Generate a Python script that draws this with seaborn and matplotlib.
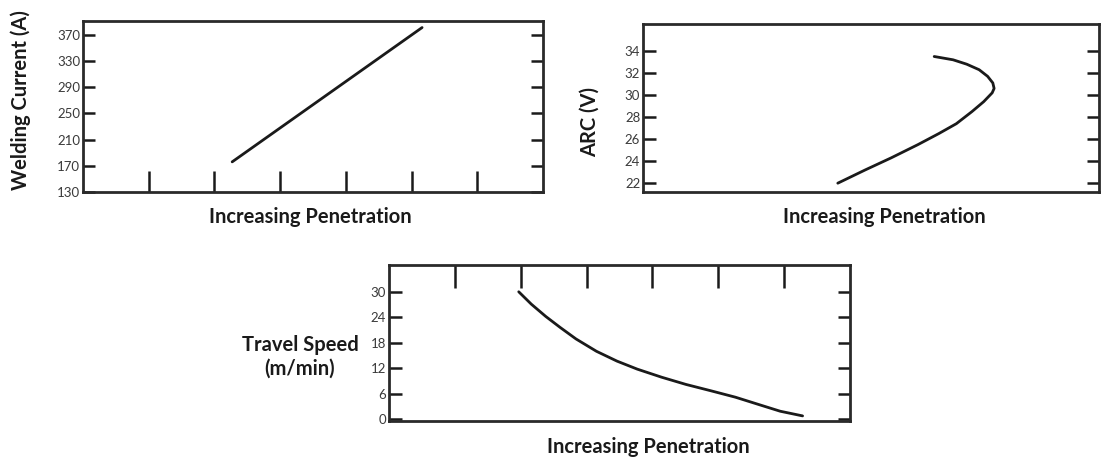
import matplotlib
matplotlib.use("Agg")
import matplotlib.pyplot as plt
import seaborn as sns
import pandas as pd

# ---- data ----
current_x = [2.27, 5.16]
current_y = [176, 381]
current_ticks = [130, 170, 210, 250, 290, 330, 370]

arc_x = [2.99, 3.41, 3.81, 4.22, 4.54, 4.81, 5.05, 5.23, 5.36, 5.39, 5.37, 5.29, 5.16, 4.97, 4.76, 4.47]
arc_y = [22.0, 23.2, 24.3, 25.5, 26.5, 27.4, 28.5, 29.4, 30.2, 30.6, 31.1, 31.7, 32.3, 32.8, 33.2, 33.5]
arc_ticks = [22, 24, 26, 28, 30, 32, 34]

speed_x = [1.97, 2.16, 2.38, 2.60, 2.84, 3.15, 3.46, 3.77, 4.14, 4.51, 4.89, 5.26, 5.63, 5.94, 6.28]
speed_y = [30.0, 27.1, 24.2, 21.6, 18.9, 16.0, 13.7, 11.8, 9.9, 8.2, 6.7, 5.2, 3.4, 1.9, 0.8]
speed_ticks = [0, 6, 12, 18, 24, 30]

pen_ticks = [1, 2, 3, 4, 5, 6]
xlabel = "Increasing Penetration"

sns.set_style("ticks")
plt.rcParams['font.family'] = ['Lato', 'DejaVu Sans']

W, H = 1101, 462
fig = plt.figure(figsize=(W / 100, H / 100), dpi=100)

def box(l, t, r, b):
    return [l / W, (H - b) / H, (r - l) / W, (b - t) / H]

ax1 = fig.add_axes(box(83, 21, 543, 192))
ax2 = fig.add_axes(box(643, 24, 1099, 192))
ax3 = fig.add_axes(box(389, 265, 850, 421))

ink = "#1a1a1a"
lab_col = "#3a3a3a"
LBL = 14.5
TCK = 9.5

for ax in (ax1, ax2, ax3):
    for s in ax.spines.values():
        s.set_visible(True)
        s.set_linewidth(2.0)
        s.set_color("#2a2a2a")
    ax.set_facecolor("white")

def place_labels(ax, xl, yl, xlab_xy, ylab_xy, rot=90):
    ax.set_xlabel(xl, fontsize=LBL, fontweight="bold", color=ink)
    ax.set_ylabel(yl, fontsize=LBL, fontweight="bold", color=ink, rotation=rot)
    ax.xaxis.set_label_coords(*xlab_xy)
    ax.yaxis.set_label_coords(*ylab_xy)
    ax.xaxis.label.set_va("center")
    ax.yaxis.label.set_va("center")
    ax.yaxis.label.set_ha("center")

# panel 1
df1 = pd.DataFrame({"x": current_x, "y": current_y})
sns.lineplot(data=df1, x="x", y="y", ax=ax1, color=ink, linewidth=2, sort=False)
ax1.set_xlim(0, 7)
ax1.set_ylim(130, 391)
ax1.set_yticks(current_ticks)
ax1.set_xticks(pen_ticks)
ax1.set_xticklabels([])
ax1.tick_params(axis="y", direction="in", length=8.5, width=1.8, left=True, right=True,
                labelsize=TCK, pad=2, labelcolor=lab_col, color=ink)
ax1.tick_params(axis="x", direction="in", length=15, width=1.8, bottom=True, color=ink)
place_labels(ax1, xlabel, "Welding Current (A)", (0.495, -0.146), (-0.135, 0.54))

# panel 2
df2 = pd.DataFrame({"x": arc_x, "y": arc_y})
sns.lineplot(data=df2, x="x", y="y", ax=ax2, color=ink, linewidth=2, sort=False)
ax2.set_xlim(0, 7)
ax2.set_ylim(21.2, 36.45)
ax2.set_yticks(arc_ticks)
ax2.set_xticks([])
ax2.tick_params(axis="y", direction="in", length=9, width=1.8, left=True, right=True,
                labelsize=TCK, pad=2, labelcolor=lab_col, color=ink)
place_labels(ax2, xlabel, "ARC (V)", (0.53, -0.149), (-0.116, 0.417))

# panel 3
df3 = pd.DataFrame({"x": speed_x, "y": speed_y})
sns.lineplot(data=df3, x="x", y="y", ax=ax3, color=ink, linewidth=2, sort=False)
ax3.set_xlim(0, 7)
ax3.set_ylim(-0.4, 36.3)
ax3.set_yticks(speed_ticks)
ax3.set_xticks(pen_ticks)
ax3.tick_params(axis="y", direction="in", length=9, width=1.8, left=True, right=True,
                labelsize=TCK, pad=2, labelcolor=lab_col, color=ink)
ax3.tick_params(axis="x", direction="in", length=16.5, width=1.8, top=True, bottom=False,
                labeltop=False, labelbottom=False, color=ink)
place_labels(ax3, xlabel, "Travel Speed\n(m/min)", (0.562, -0.167), (-0.193, 0.41), rot=0)

fig.savefig("out.png", dpi=100, facecolor="white")
